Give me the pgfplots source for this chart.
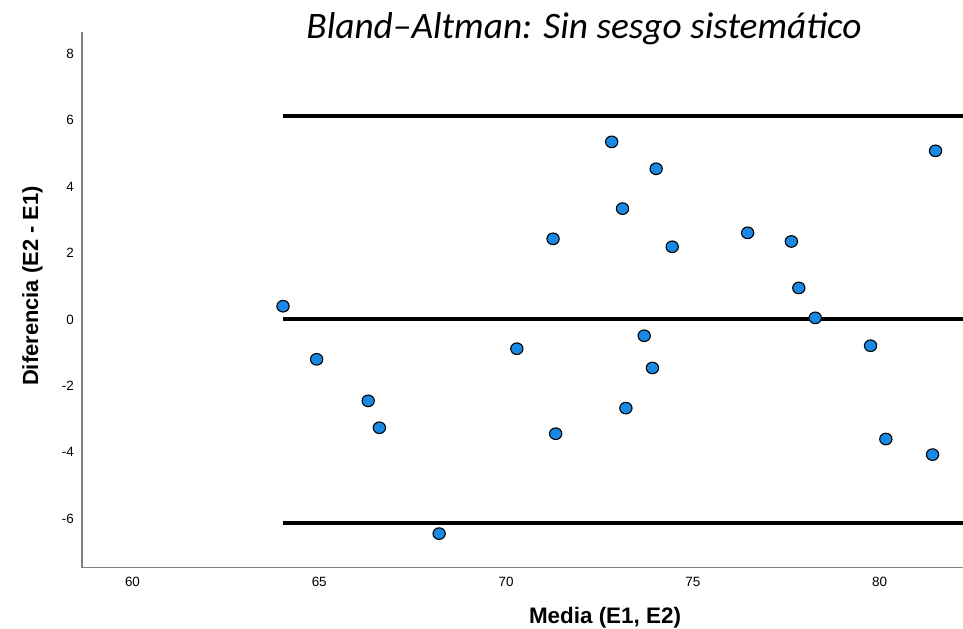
\documentclass[border=0pt]{standalone}
\usepackage{fontspec}
\setmainfont{Liberation Sans}
\newfontfamily\carlito{Carlito}
\usepackage{pgfplots}
\pgfplotsset{compat=1.18}
\definecolor{pt}{RGB}{26,137,227}
\begin{document}
\begin{tikzpicture}[x=1bp,y=1bp]
\useasboundingbox (0,0) rectangle (963,629);
\begin{axis}[
 at={(82bp,61.3bp)}, anchor=south west,
 scale only axis, width=881bp, height=535.7bp,
 xmin=58.648, xmax=82.236, ymin=-7.476, ymax=8.66,
 axis x line*=bottom, axis y line*=left,
 axis line style={draw=black!50, line width=1.2bp},
 major tick length=0pt,
 xtick={60,65,70,75,80}, ytick={-6,-4,...,8},
 ticklabel style={font=\fontsize{13.5}{16}\selectfont, inner sep=0pt},
 xticklabel style={yshift=-9bp},
 yticklabel style={xshift=-8bp},
 /pgf/number format/assume math mode=true,
]
\addplot[black, line width=4bp] coordinates {(64.03,6.13) (82.236,6.13)};
\addplot[black, line width=4bp] coordinates {(64.03,0) (82.236,0)};
\addplot[black, line width=4bp] coordinates {(64.03,-6.13) (82.236,-6.13)};
\addplot[only marks, mark=*, mark size=5.8bp, mark options={fill=pt, draw=black, line width=1.1bp, xscale=1.06}] table {
x y
64.03 0.40
64.93 -1.20
66.31 -2.45
66.61 -3.26
68.21 -6.45
70.29 -0.88
71.26 2.43
71.33 -3.44
72.83 5.35
73.12 3.34
73.21 -2.67
73.70 -0.49
73.92 -1.46
74.02 4.54
74.45 2.19
76.47 2.61
77.64 2.35
77.84 0.95
78.28 0.05
79.76 -0.79
80.17 -3.60
81.42 -4.07
81.50 5.08
};
\end{axis}
\node[font=\carlito\itshape\fontsize{37.5}{42}\selectfont, anchor=base] at (584,590) {Bland–Altman: Sin sesgo sistemático};
\node[font=\bfseries\fontsize{22.5}{26}\selectfont, anchor=base] at (605,5) {Media (E1, E2)};
\node[font=\bfseries\fontsize{22}{26}\selectfont, rotate=90, anchor=base] at (38,343) {Diferencia (E2 - E1)};
\end{tikzpicture}
\end{document}
